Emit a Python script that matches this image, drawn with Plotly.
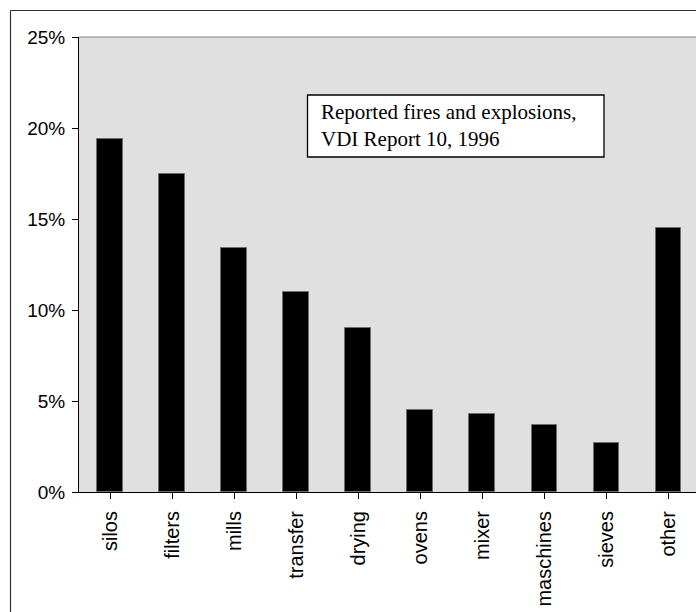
import plotly.graph_objects as go

categories = ["silos", "filters", "mills", "transfer", "drying", "ovens", "mixer", "maschines", "sieves", "other"]
shares = [0.194, 0.175, 0.134, 0.110, 0.090, 0.045, 0.043, 0.037, 0.027, 0.145]
y_ticks = [0, 0.05, 0.10, 0.15, 0.20, 0.25]
note_text = "Reported fires and explosions,<br>VDI Report 10, 1996"

W, H = 696, 612
L, T, B, R = 79, 37, 120, 0
pw = W - L - R
ph = H - T - B

def px_x(p):
    return (p - L) / pw

def px_y(p):
    return (H - B - p) / ph

fig = go.Figure()
fig.add_trace(go.Bar(
    x=list(range(len(categories))),
    y=shares,
    width=0.41,
    marker=dict(color="#000000", line=dict(color="#6e6e6e", width=1)),
    hoverinfo="skip",
))

fig.update_layout(
    width=W, height=H,
    margin=dict(l=L, r=R, t=T, b=B, pad=0),
    paper_bgcolor="#ffffff",
    plot_bgcolor="#e0e0e0",
    showlegend=False,
    bargap=0,
    font=dict(family="Liberation Sans, Arial, sans-serif", color="#000000"),
)

fig.update_xaxes(
    range=[-0.5, len(categories) - 0.5 - 3.3 / 62],
    tickmode="array",
    tickvals=list(range(len(categories))),
    ticktext=categories,
    tickangle=-90,
    tickfont=dict(size=20, family="Liberation Sans, Arial, sans-serif", color="#000000"),
    ticks="outside", ticklen=6, tickcolor="#000000", tickwidth=1,
    tickson="boundaries",
    showline=True, linecolor="#000000", linewidth=1,
    showgrid=False, zeroline=False,
    ticklabelstandoff=4,
)

fig.update_yaxes(
    range=[0, 0.25],
    tickmode="array",
    tickvals=y_ticks,
    ticktext=[f"{int(round(v*100))}%" for v in y_ticks],
    tickfont=dict(size=19, family="Liberation Sans, Arial, sans-serif", color="#000000"),
    ticks="outside", ticklen=6, tickcolor="#000000", tickwidth=1,
    showline=True, linecolor="#000000", linewidth=1,
    showgrid=False, zeroline=False,
    ticklabelstandoff=3,
)

shapes = []
# plot area top border (gray)
shapes.append(dict(type="line", xref="paper", yref="paper", x0=0, x1=1.01, y0=1, y1=1,
                   line=dict(color="#808080", width=1)))
# outer chart frame (left and top visible)
fx = px_x(10.5)
fy = px_y(10.5)
shapes.append(dict(type="line", xref="paper", yref="paper", x0=fx, x1=1.05, y0=fy, y1=fy,
                   line=dict(color="#333333", width=1.2)))
shapes.append(dict(type="line", xref="paper", yref="paper", x0=fx, x1=fx, y0=fy, y1=px_y(620),
                   line=dict(color="#333333", width=1.2)))
# note box
shapes.append(dict(type="rect", xref="paper", yref="paper",
                   x0=px_x(307.5), x1=px_x(604), y0=px_y(157), y1=px_y(95),
                   fillcolor="#ffffff", line=dict(color="#000000", width=1.3), layer="above"))
fig.update_layout(shapes=shapes)

fig.add_annotation(
    xref="paper", yref="paper",
    x=px_x(319), y=px_y(126), xanchor="left", yanchor="middle",
    text=note_text, showarrow=False, align="left",
    font=dict(family="Liberation Serif, Times New Roman, serif", size=21, color="#000000"),
)

fig.write_html("out.html")
